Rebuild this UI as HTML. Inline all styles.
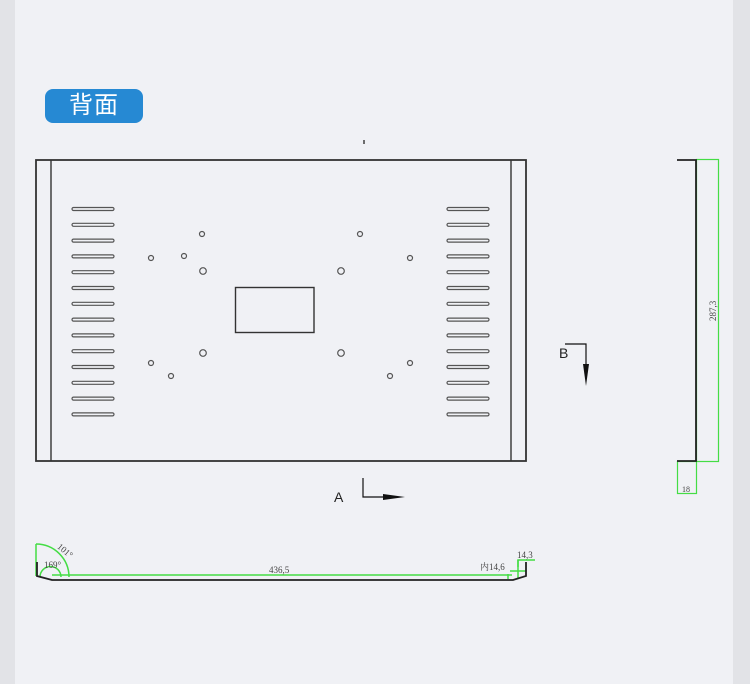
<!DOCTYPE html>
<html><head><meta charset="utf-8"><style>
html,body{margin:0;padding:0;width:750px;height:684px;overflow:hidden;background:#e2e3e7}
.panel{position:absolute;left:15px;top:0;width:718px;height:684px;background:#f0f1f5}
.tag{position:absolute;left:45px;top:89px;width:98px;height:34px;background:#2689d3;border-radius:8px;color:#fff;font:24px "Liberation Sans","Noto Sans CJK SC",sans-serif;text-align:center;line-height:34px;letter-spacing:1px}
svg{position:absolute;left:0;top:0}
</style></head><body>
<div class="panel"></div>
<div class="tag">背面</div>
<svg width="750" height="684" xmlns="http://www.w3.org/2000/svg">
<g fill="none" stroke="#333" stroke-width="1.4">
<rect x="36" y="160" width="490" height="301" stroke-width="1.8"/>
<line x1="51" y1="160" x2="51" y2="461"/>
<line x1="511" y1="160" x2="511" y2="461"/>
<line x1="364" y1="140" x2="364" y2="144"/>
<rect x="235.5" y="287.5" width="78.5" height="45"/>
</g>
<g fill="none" stroke="#555" stroke-width="1.2">
<g id="slots">
<rect x="72" y="207.5" width="42" height="3" rx="1.5"/>
<rect x="72" y="223.3" width="42" height="3" rx="1.5"/>
<rect x="72" y="239.1" width="42" height="3" rx="1.5"/>
<rect x="72" y="254.9" width="42" height="3" rx="1.5"/>
<rect x="72" y="270.7" width="42" height="3" rx="1.5"/>
<rect x="72" y="286.5" width="42" height="3" rx="1.5"/>
<rect x="72" y="302.3" width="42" height="3" rx="1.5"/>
<rect x="72" y="318.1" width="42" height="3" rx="1.5"/>
<rect x="72" y="333.9" width="42" height="3" rx="1.5"/>
<rect x="72" y="349.7" width="42" height="3" rx="1.5"/>
<rect x="72" y="365.5" width="42" height="3" rx="1.5"/>
<rect x="72" y="381.3" width="42" height="3" rx="1.5"/>
<rect x="72" y="397.1" width="42" height="3" rx="1.5"/>
<rect x="72" y="412.9" width="42" height="3" rx="1.5"/>
</g>
<use href="#slots" x="375"/>
<circle cx="202" cy="234" r="2.5"/><circle cx="151" cy="258" r="2.5"/><circle cx="184" cy="256" r="2.5"/>
<circle cx="203" cy="271" r="3.3"/><circle cx="203" cy="353" r="3.3"/><circle cx="151" cy="363" r="2.5"/><circle cx="171" cy="376" r="2.5"/>
<circle cx="360" cy="234" r="2.5"/><circle cx="410" cy="258" r="2.5"/><circle cx="341" cy="271" r="3.3"/>
<circle cx="341" cy="353" r="3.3"/><circle cx="410" cy="363" r="2.5"/><circle cx="390" cy="376" r="2.5"/>
</g>
<g stroke="#111" stroke-width="1.2" fill="none">
<polyline points="565,344 586,344 586,368"/>
<polyline points="363,478 363,497 385,497"/>
</g>
<polygon points="583,364 589,364 586,386" fill="#111"/>
<polygon points="383,494 383,500 405,497" fill="#111"/>
<text x="559" y="358" font-family="Liberation Sans,sans-serif" font-size="14" fill="#222">B</text>
<text x="334" y="502" font-family="Liberation Sans,sans-serif" font-size="14" fill="#222">A</text>
<g stroke="#44dd44" stroke-width="1.2" fill="none">
<rect x="696.5" y="159.5" width="22" height="302"/>
<rect x="677.5" y="461.5" width="19" height="32"/>
</g>
<g stroke="#222" stroke-width="1.8" fill="none">
<polyline points="677,160 696,160 696,461 677,461"/>
</g>
<text transform="translate(716,321) rotate(-90)" font-family="Liberation Serif,serif" font-size="9" fill="#444">287,3</text>
<text x="682" y="492" font-family="Liberation Serif,serif" font-size="8" fill="#444">18</text>
<g stroke="#44dd44" stroke-width="1.5" fill="none">
<line x1="52" y1="575" x2="512" y2="575"/>
<path d="M36,544 A33,33 0 0 1 69,577"/>
<path d="M40,577 A10,10 0 0 1 61,577"/>
<line x1="36" y1="544" x2="36" y2="576"/>
<polyline points="508,574 508,579"/>
<polyline points="518,567 518,560 535,560"/>
<line x1="510" y1="571" x2="526" y2="571"/>
<line x1="518" y1="560" x2="518" y2="578"/>
</g>
<g stroke="#222" stroke-width="1.8" fill="none">
<polyline points="37,562 37,576 52,580 513,580 526,576 526,562"/>
</g>
<text x="55" y="552" transform="rotate(40 62 552)" font-family="Liberation Serif,serif" font-size="9" fill="#444">101°</text>
<text x="44" y="568" font-family="Liberation Serif,serif" font-size="9" fill="#444">169°</text>
<text x="269" y="573" font-family="Liberation Serif,serif" font-size="9" fill="#444">436,5</text>
<text x="480" y="570" font-family="Liberation Serif,'Noto Serif CJK SC',serif" font-size="9" fill="#444">内14,6</text>
<text x="517" y="558" font-family="Liberation Serif,serif" font-size="9" fill="#444">14,3</text>
</svg>
</body></html>
